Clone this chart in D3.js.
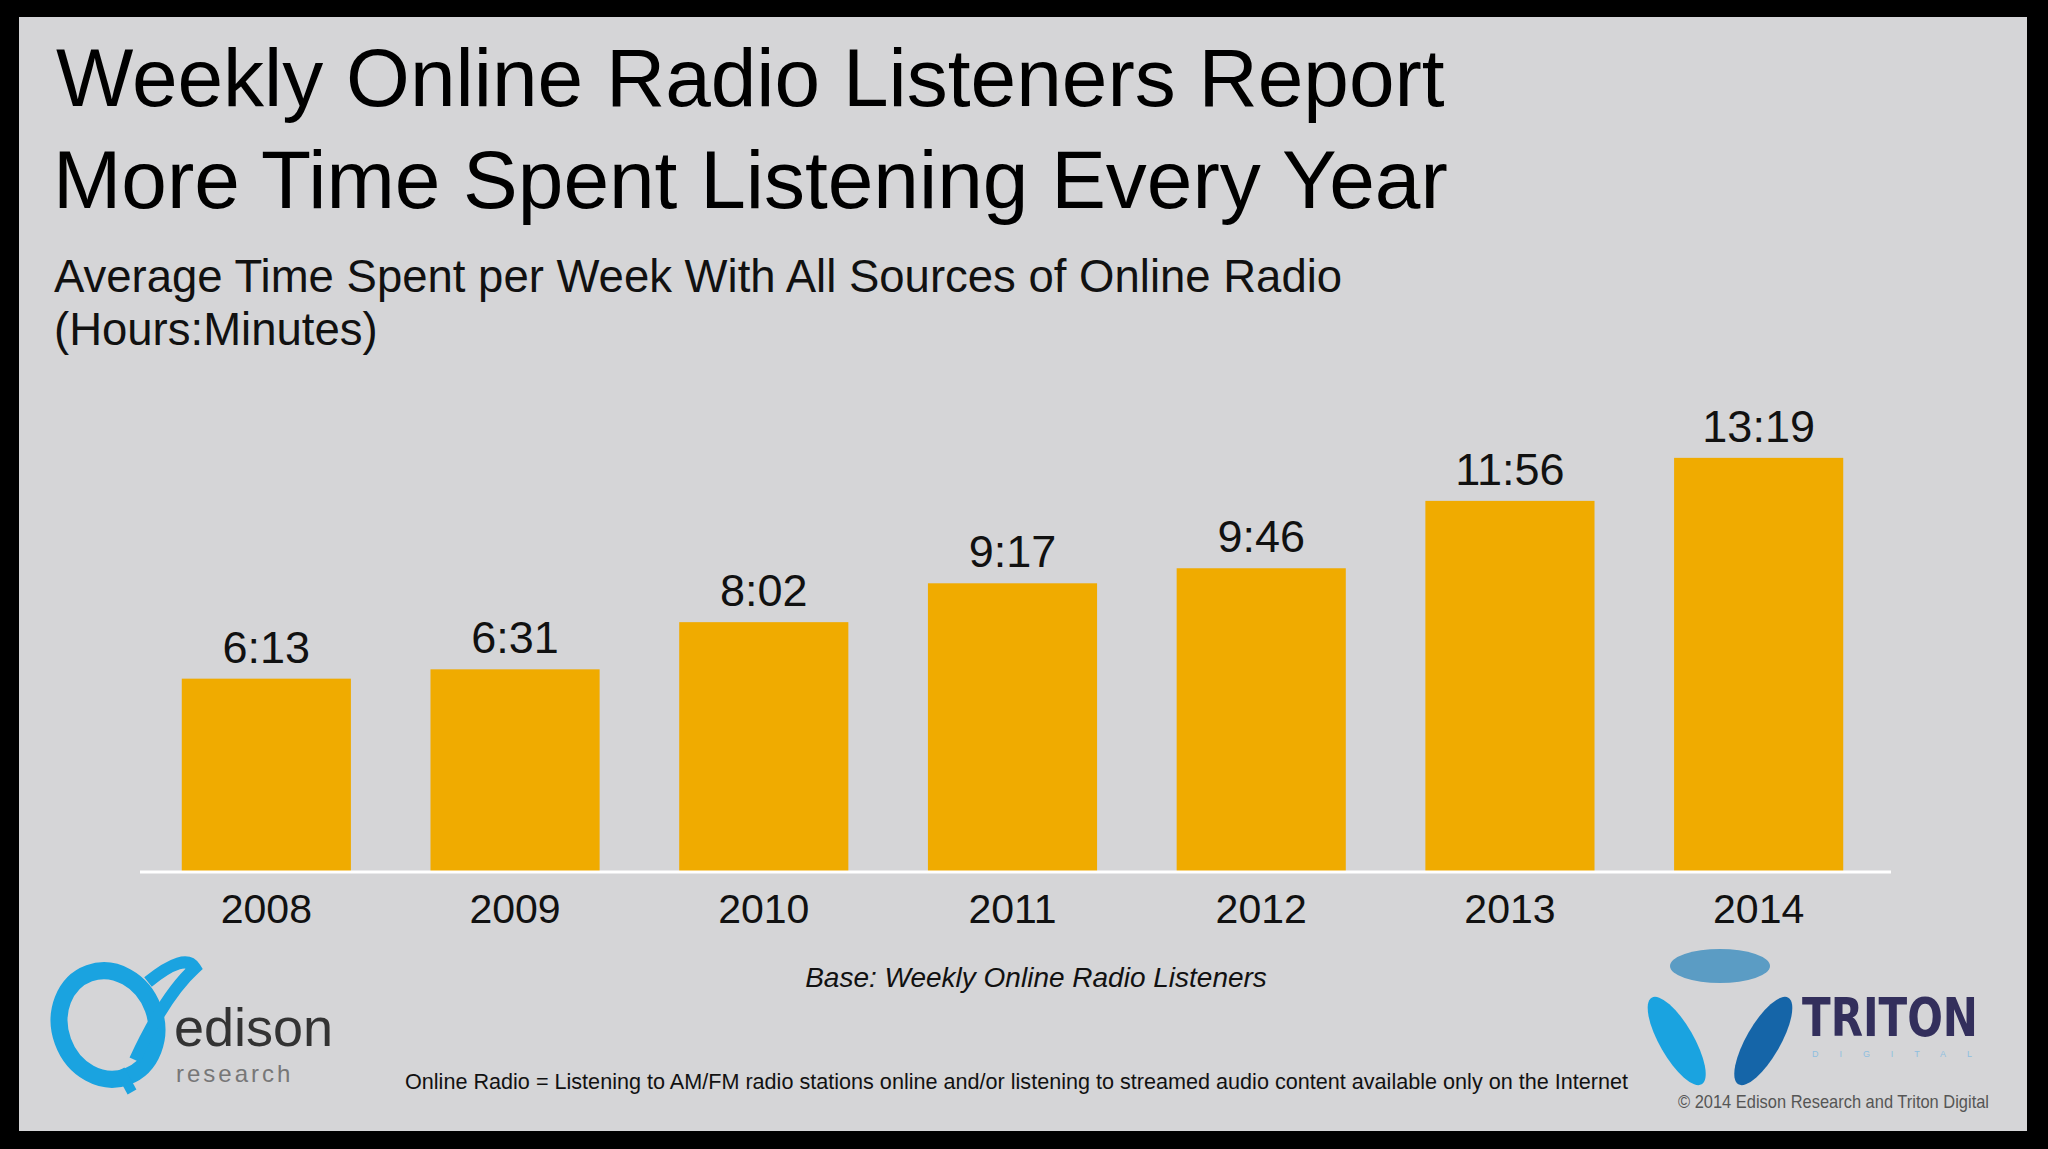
<!DOCTYPE html>
<html><head><meta charset="utf-8">
<script src="https://cdn.jsdelivr.net/npm/d3@7"></script>
<style>body{margin:0;background:#000;}svg{display:block;}</style>
</head><body>
<script>
// chart data
var years = ["2008", "2009", "2010", "2011", "2012", "2013", "2014"];
var labels = ["6:13", "6:31", "8:02", "9:17", "9:46", "11:56", "13:19"];
var hours = [6 + 13/60, 6 + 31/60, 8 + 2/60, 9 + 17/60, 9 + 46/60, 11 + 56/60, 13 + 19/60];

var W = 2048, H = 1149;
var svg = d3.select("body").append("svg").attr("width", W).attr("height", H);
var font = "Liberation Sans, Arial, sans-serif";

svg.append("rect").attr("width", W).attr("height", H).attr("fill", "#000");
svg.append("rect").attr("x", 19).attr("y", 17).attr("width", 2008).attr("height", 1114).attr("fill", "#d5d5d7");

// titles
svg.append("text").attr("x", 56).attr("y", 106).attr("font-family", font).attr("font-size", 82)
    .attr("fill", "#000").text("Weekly Online Radio Listeners Report");
svg.append("text").attr("x", 53).attr("y", 208).attr("font-family", font).attr("font-size", 82)
    .attr("fill", "#000").text("More Time Spent Listening Every Year");
svg.append("text").attr("x", 54).attr("y", 292).attr("font-family", font).attr("font-size", 45.5)
    .attr("fill", "#111").text("Average Time Spent per Week With All Sources of Online Radio");
svg.append("text").attr("x", 54).attr("y", 345).attr("font-family", font).attr("font-size", 45.5)
    .attr("fill", "#111").text("(Hours:Minutes)");

// scales
var x = d3.scaleBand().domain(years).range([137, 1888]).paddingInner(0.32).paddingOuter(0.18);
var y = d3.scaleLinear().domain([0, 14]).range([872, 872 - 14 * 31.1]);

svg.selectAll("rect.bar").data(hours).enter().append("rect")
    .attr("class", "bar")
    .attr("x", function(d, i) { return x(years[i]); })
    .attr("y", function(d) { return y(d); })
    .attr("width", x.bandwidth())
    .attr("height", function(d) { return y(0) - y(d); })
    .attr("fill", "#f0ab00");

svg.selectAll("text.val").data(hours).enter().append("text")
    .attr("class", "val")
    .attr("x", function(d, i) { return x(years[i]) + x.bandwidth() / 2; })
    .attr("y", function(d) { return y(d) - 16; })
    .attr("text-anchor", "middle").attr("font-family", font).attr("font-size", 45)
    .attr("fill", "#111")
    .text(function(d, i) { return labels[i]; });

// axis
var axis = svg.append("g").attr("transform", "translate(0,872)")
    .call(d3.axisBottom(x).tickSize(0).tickPadding(22));
axis.select(".domain").attr("stroke", "#fff").attr("stroke-width", 3)
    .attr("d", "M140,0H1891");
axis.selectAll("text").attr("font-family", font).attr("font-size", 41).attr("fill", "#111");

// footnotes
svg.append("text").attr("x", 1036).attr("y", 987).attr("text-anchor", "middle")
    .attr("font-family", font).attr("font-size", 28).attr("font-style", "italic")
    .attr("fill", "#111").text("Base: Weekly Online Radio Listeners");
svg.append("text").attr("x", 405).attr("y", 1089)
    .attr("font-family", font).attr("font-size", 22)
    .attr("textLength", 1223).attr("lengthAdjust", "spacingAndGlyphs")
    .attr("fill", "#111").text("Online Radio = Listening to AM/FM radio stations online and/or listening to streamed audio content available only on the Internet");
svg.append("text").attr("x", 1678).attr("y", 1108)
    .attr("font-family", font).attr("font-size", 19)
    .attr("textLength", 311).attr("lengthAdjust", "spacingAndGlyphs")
    .attr("fill", "#555").text("\u00a9 2014 Edison Research and Triton Digital");

// edison logo (approximation)
var ed = svg.append("g");
ed.append("ellipse").attr("cx", 108).attr("cy", 1025).attr("rx", 48).attr("ry", 55)
    .attr("fill", "none").attr("stroke", "#1aa3e0").attr("stroke-width", 17)
    .attr("transform", "rotate(-20,108,1025)");
ed.append("path").attr("d", "M148 982 Q185 952 195 968 Q165 995 135 1060")
    .attr("fill", "none").attr("stroke", "#1aa3e0").attr("stroke-width", 12);
ed.append("path").attr("d", "M120 1070 L132 1092").attr("stroke", "#1aa3e0").attr("stroke-width", 10);
ed.append("text").attr("x", 174).attr("y", 1046).attr("font-family", font).attr("font-size", 54)
    .attr("fill", "#333").text("edison");
ed.append("text").attr("x", 176).attr("y", 1082).attr("font-family", font).attr("font-size", 24)
    .attr("letter-spacing", 3).attr("fill", "#777").text("research");

// triton logo (approximation)
var tr = svg.append("g").attr("transform", "translate(1720,1016)");
var petals = [["#5b9cc4", 0], ["#1565a8", 120], ["#1aa3e0", 240]];
petals.forEach(function(p) {
    tr.append("ellipse").attr("cx", 0).attr("cy", -50).attr("rx", 50).attr("ry", 17)
        .attr("fill", p[0]).attr("transform", "rotate(" + p[1] + ")");
});
tr.append("text").attr("x", 82).attr("y", 20).attr("font-family", "DejaVu Sans Condensed, sans-serif")
    .attr("font-weight", "bold").attr("font-size", 54).attr("fill", "#332f5c")
    .attr("textLength", 176).attr("lengthAdjust", "spacingAndGlyphs").text("TRITON");
tr.append("text").attr("x", 92).attr("y", 41).attr("font-family", font).attr("font-size", 9)
    .attr("textLength", 160).attr("fill", "#8fbfe0").text("DIGITAL");
</script>
</body></html>
